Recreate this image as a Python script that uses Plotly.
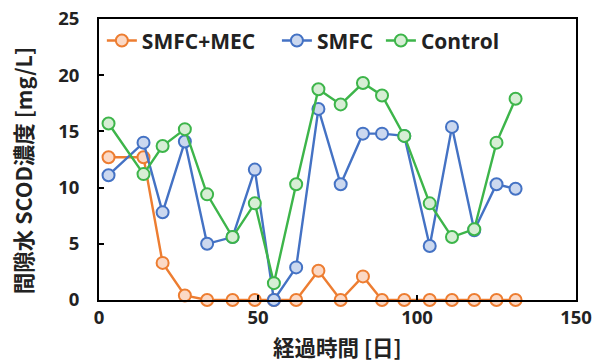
import plotly.graph_objects as go

# Elapsed days of each sampling
days = [3, 14, 20, 27, 34, 42, 49, 55, 62, 69, 76, 83, 89, 96, 104, 111, 118, 125, 131]

# Pore-water SCOD concentration [mg/L]
smfc_mec = [12.7, 12.7, 3.3, 0.4, 0, 0, 0, 0, 0, 2.6, 0, 2.1, 0, 0, 0, 0, 0, 0, 0]
smfc = [11.1, 14.0, 7.8, 14.1, 5.0, 5.6, 11.6, 0, 2.9, 17.0, 10.3, 14.8, 14.8, 14.6, 4.8, 15.4, 6.2, 10.3, 9.9]
control = [15.7, 11.2, 13.7, 15.2, 9.4, 5.6, 8.6, 1.5, 10.3, 18.75, 17.4, 19.3, 18.2, 14.6, 8.6, 5.6, 6.3, 14.0, 17.9]

# name, values, line colour, marker fill, legend id, legend x (paper)
series = [
    ("SMFC+MEC", smfc_mec, "#ED7D31", "#FBD9C6", "legend", 0.006),
    ("SMFC", smfc, "#4472C4", "#CBD8EF", "legend2", 0.373),
    ("Control", control, "#3DB54A", "#D7EED5", "legend3", 0.591),
]

LATIN = "'Open Sans', 'Noto Sans CJK JP', sans-serif"
CJK = "'Noto Sans CJK JP', 'Open Sans', sans-serif"
INK = "#222222"

fig = go.Figure()
legends = {}
for name, vals, line_c, fill_c, leg, leg_x in series:
    fig.add_trace(go.Scatter(
        x=days, y=vals, name=name, mode="lines+markers", legend=leg,
        line=dict(color=line_c, width=2.4),
        marker=dict(size=12, color=fill_c, line=dict(color=line_c, width=2)),
        cliponaxis=False,
    ))
    legends[leg] = dict(
        orientation="h", x=leg_x, y=0.995, xanchor="left", yanchor="top",
        font=dict(family=LATIN, size=21, color=INK, weight="bold"),
        bgcolor="rgba(0,0,0,0)", itemwidth=30,
    )

axis_common = dict(
    showline=True, linecolor="black", linewidth=2, mirror=True,
    ticks="inside", ticklen=5, tickwidth=2, tickcolor="black",
    showgrid=False, zeroline=False, automargin=False,
    tickfont=dict(family=LATIN, size=18.5, color=INK, weight="bold"),
)

fig.update_layout(
    width=594, height=363,
    margin=dict(l=99, r=18, t=19, b=63),
    paper_bgcolor="white", plot_bgcolor="white",
    showlegend=True,
    xaxis=dict(range=[0, 150], tickvals=[0, 50, 100, 150], **axis_common),
    yaxis=dict(range=[0, 25], tickvals=[0, 5, 10, 15, 20, 25], ticklabelstandoff=14, **axis_common),
    annotations=[
        dict(text="間隙水 SCOD濃度 [mg/L]", textangle=-90, xref="paper", yref="paper",
             x=-0.161, y=0.459, xanchor="center", yanchor="middle", showarrow=False,
             font=dict(family=CJK, size=21.5, color=INK, weight="bold")),
        dict(text="経過時間 [日]", xref="paper", yref="paper",
             x=0.499, y=-0.167, xanchor="center", yanchor="middle", showarrow=False,
             font=dict(family=CJK, size=21.5, color=INK, weight="bold")),
    ],
    **legends,
)

fig.write_html("out.html")
